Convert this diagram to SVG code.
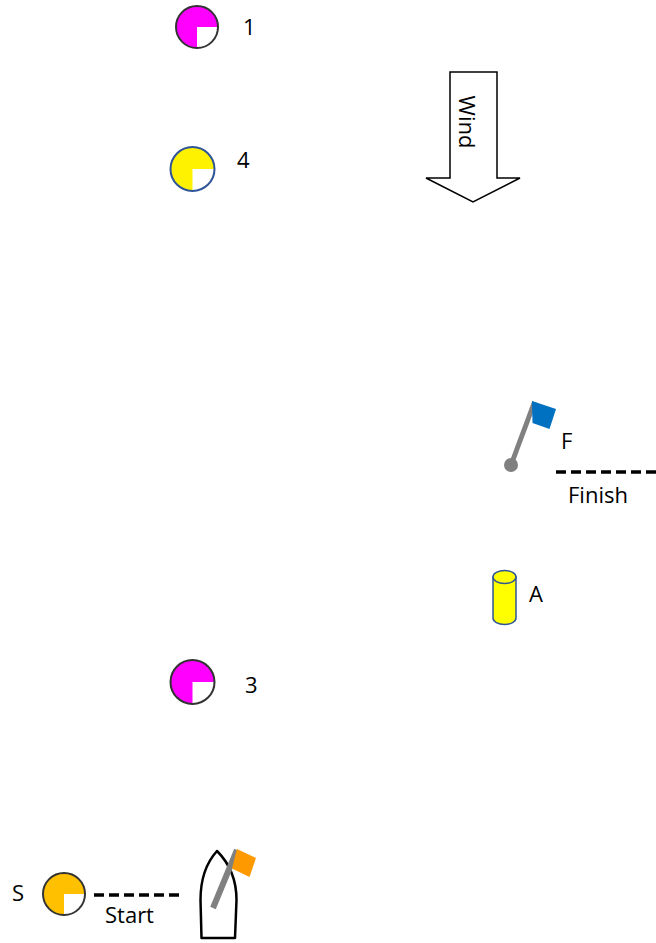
<svg xmlns="http://www.w3.org/2000/svg" width="656" height="943" viewBox="0 0 656 943">
<style>
.lbl{font-family:"Open Sans","Liberation Sans",sans-serif;font-size:22px;fill:#000}
.dash{stroke:#000;stroke-width:3.5;stroke-dasharray:10 5;fill:none}
.ring{fill:none;stroke-width:2}
.q{fill:#fff}
</style>
<rect width="656" height="943" fill="#fff"/>
<g id="mark1">
<circle cx="197" cy="27" r="21" fill="#FF00FF"/>
<path class="q" d="M197,27 L218,27 A21,21 0 0 1 197,48 Z"/>
<circle class="ring" cx="197" cy="27" r="21" stroke="#333"/>
<text class="lbl" x="243" y="35">1</text>
</g>
<g id="mark4">
<circle cx="192.5" cy="169" r="22" fill="#FFF200"/>
<path class="q" d="M192.5,169 L214.5,169 A22,22 0 0 1 192.5,191 Z"/>
<circle class="ring" cx="192.5" cy="169" r="22" stroke="#2F5597"/>
<text class="lbl" x="237" y="168">4</text>
</g>
<g id="wind">
<path d="M450,72 L497,72 L497,178 L520,178 L473,202 L426,178 L450,178 Z" fill="#fff" stroke="#000" stroke-width="1.5"/>
<text class="lbl" transform="translate(459,122) rotate(90)" text-anchor="middle" font-size="24">Wind</text>
</g>
<g id="finishflag">
<line x1="511" y1="465" x2="534.5" y2="402" stroke="#808080" stroke-width="5"/>
<circle cx="511" cy="465" r="7" fill="#808080"/>
<path d="M532,401 L556,409 L549.5,429 L532.5,423 Z" fill="#0070C0"/>
<text class="lbl" x="561" y="449">F</text>
</g>
<g id="markA">
<path d="M493,577 L493,618 A11.5,6.5 0 0 0 516,618 L516,577 Z" fill="#FFFF00" stroke="#2F5597" stroke-width="1.5"/>
<ellipse cx="504.5" cy="577" rx="11.5" ry="6.5" fill="#FFFF00" stroke="#2F5597" stroke-width="1.5"/>
<text class="lbl" x="529" y="602">A</text>
</g>
<g id="mark3">
<circle cx="192.5" cy="682" r="22" fill="#FF00FF"/>
<path class="q" d="M192.5,682 L214.5,682 A22,22 0 0 1 192.5,704 Z"/>
<circle class="ring" cx="192.5" cy="682" r="22" stroke="#333"/>
<text class="lbl" x="245" y="693">3</text>
</g>
<g id="markS">
<circle cx="64" cy="894" r="21" fill="#FFC000"/>
<path class="q" d="M64,894 L85,894 A21,21 0 0 1 64,915 Z"/>
<circle class="ring" cx="64" cy="894" r="21" stroke="#333"/>
<text class="lbl" x="12" y="901">S</text>
</g>
<g id="boat">
<path d="M217,851 C207,862 200.5,878 200.5,900 L201.5,938 L235,938 L236.5,900 C236.5,878 228,862 217,851 Z" fill="#fff" stroke="#000" stroke-width="2.5" stroke-linejoin="round"/>
<line x1="213" y1="908" x2="237" y2="850" stroke="#808080" stroke-width="6"/>
<path d="M237,849 L256,858 L249.5,877 L232,868.5 Z" fill="#FF9900"/>
</g>
<g id="connectors">
<line class="dash" x1="556" y1="472" x2="656" y2="472"/>
<text class="lbl" x="568" y="503">Finish</text>
<line class="dash" x1="94" y1="895" x2="183" y2="895"/>
<text class="lbl" x="105" y="923">Start</text>
</g>
</svg>
